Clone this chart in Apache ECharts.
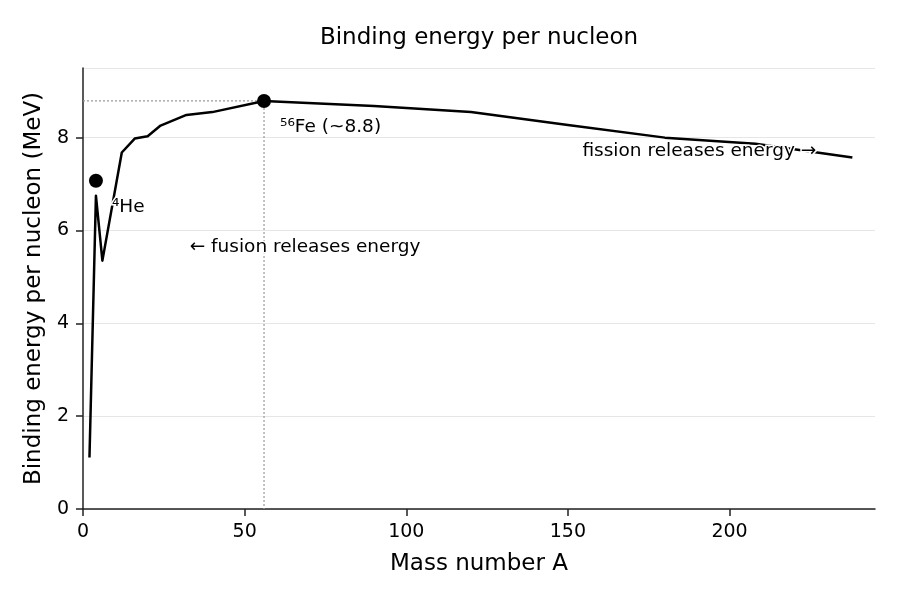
<!DOCTYPE html>
<html>
<head>
<meta charset="utf-8">
<title>Binding energy per nucleon</title>
<script src="https://cdn.jsdelivr.net/npm/echarts@6/dist/echarts.min.js"></script>
<style>
  html, body { margin: 0; padding: 0; background: #fff; }
  #main { width: 900px; height: 600px; }
</style>
</head>
<body>
<div id="main"></div>
<script>
// curve
var massNumbers   = [2, 4, 6, 12, 16, 20, 24, 32, 40, 56, 90, 120, 150, 180, 208, 238];
var bindingEnergy = [1.11, 6.75, 5.35, 7.68, 7.98, 8.03, 8.26, 8.49, 8.55, 8.79, 8.68, 8.55, 8.27, 8.0, 7.87, 7.57];

// highlighted nuclei
var markedA      = [4, 56];
var markedBE     = [7.07, 8.79];
var markedLabels = ['\u2074He', '\u2075\u2076Fe (~8.8)'];

// guide lines to iron
var guideA  = [0, 56, 56];
var guideBE = [8.79, 8.79, 0];

// free text notes
var noteTexts = ['\u2190 fusion releases energy', 'fission releases energy \u2192'];
var noteA     = [33, 154.5];
var noteBE    = [5.65, 7.71];

var FONT = 'DejaVu Sans';

function pairs(xs, ys) {
  var out = [];
  for (var i = 0; i < xs.length; i++) out.push([xs[i], ys[i]]);
  return out;
}

var myChart = echarts.init(document.getElementById('main'));

myChart.setOption({
  animation: false,
  backgroundColor: '#fff',
  textStyle: { fontFamily: FONT },
  title: {
    text: 'Binding energy per nucleon',
    left: 474,
    textAlign: 'center',
    top: 22,
    textStyle: { fontFamily: FONT, fontSize: 23, fontWeight: 'normal', color: '#000' }
  },
  grid: { left: 83, right: 25, top: 68, bottom: 91, containLabel: false, outerBoundsMode: 'none' },
  xAxis: {
    type: 'value',
    min: 0,
    max: 245,
    interval: 50,
    name: 'Mass number A',
    nameLocation: 'middle',
    nameGap: 44,
    nameMoveOverlap: false,
    nameTextStyle: { fontFamily: FONT, fontSize: 23, color: '#000' },
    axisLine: { lineStyle: { color: '#222', width: 1.5 } },
    axisTick: { show: true, length: 7, lineStyle: { color: '#222', width: 1.5 } },
    axisLabel: { fontFamily: FONT, fontSize: 19, color: '#000', margin: 14, showMaxLabel: false },
    splitLine: { show: false }
  },
  yAxis: {
    type: 'value',
    min: 0,
    max: 9.5,
    interval: 2,
    name: 'Binding energy per nucleon (MeV)',
    nameLocation: 'middle',
    nameGap: 37,
    nameMoveOverlap: false,
    nameTextStyle: { fontFamily: FONT, fontSize: 23, color: '#000' },
    axisLine: { show: true, lineStyle: { color: '#222', width: 1.5 } },
    axisTick: { show: true, length: 7, lineStyle: { color: '#222', width: 1.5 } },
    axisLabel: { fontFamily: FONT, fontSize: 19, color: '#000', margin: 14, showMaxLabel: false },
    splitLine: { show: true, lineStyle: { color: '#e6e6e6', width: 1 } }
  },
  series: [
    {
      type: 'line',
      data: pairs(guideA, guideBE),
      symbol: 'none',
      silent: true,
      z: 1,
      lineStyle: { color: '#999', width: 1.2, type: [2, 2] }
    },
    {
      type: 'line',
      data: pairs(massNumbers, bindingEnergy),
      symbol: 'none',
      z: 2,
      lineStyle: { color: '#000', width: 2.5, join: 'round' }
    },
    {
      type: 'scatter',
      data: pairs(markedA, markedBE),
      symbol: 'circle',
      symbolSize: 14,
      z: 5,
      itemStyle: { color: '#000', opacity: 1 },
      label: {
        show: true,
        position: 'right',
        distance: 0,
        offset: [9, 26],
        fontFamily: FONT,
        fontSize: 18.5,
        color: '#000',
        textBorderColor: '#fff',
        textBorderWidth: 3,
        formatter: function (p) { return markedLabels[p.dataIndex]; }
      }
    }
  ]
});

// place the free notes in data space
var notes = [];
for (var i = 0; i < noteTexts.length; i++) {
  var px = myChart.convertToPixel({ gridIndex: 0 }, [noteA[i], noteBE[i]]);
  notes.push({
    type: 'text',
    x: px[0],
    y: px[1],
    z: 100,
    style: {
      text: noteTexts[i],
      font: '18.5px "DejaVu Sans"',
      fill: '#000',
      stroke: '#fff',
      lineWidth: 3,
      textAlign: 'left',
      textVerticalAlign: 'middle',
      verticalAlign: 'middle'
    }
  });
}
myChart.setOption({ graphic: notes });
</script>
</body>
</html>
